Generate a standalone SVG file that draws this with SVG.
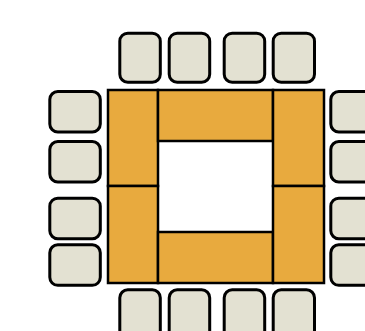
<svg xmlns="http://www.w3.org/2000/svg" width="365" height="331" viewBox="0 0 365 331">
<style>
.chair{fill:#E3E1D2;stroke:#000;stroke-width:3}
.table{fill:#E8AA3E;stroke:#000;stroke-width:2.5}
</style>
<rect width="365" height="331" fill="#fff"/>
<g id="tables">
<rect id="t-left-top" class="table" x="108" y="90" width="50" height="96"/>
<rect id="t-left-bottom" class="table" x="108" y="186" width="50" height="97"/>
<rect id="t-top" class="table" x="158" y="90" width="115" height="51"/>
<rect id="t-bottom" class="table" x="158" y="232" width="115" height="51"/>
<rect id="t-right-top" class="table" x="273" y="90" width="51" height="96"/>
<rect id="t-right-bottom" class="table" x="273" y="186" width="51" height="97"/>
</g>
<g id="chairs-top">
<rect id="c-t1" class="chair" x="119.8" y="33.2" width="40.5" height="49" rx="8"/>
<rect id="c-t2" class="chair" x="169.2" y="33.2" width="40.5" height="49" rx="8"/>
<rect id="c-t3" class="chair" x="224.2" y="33.2" width="40.5" height="49" rx="8"/>
<rect id="c-t4" class="chair" x="273.2" y="33.2" width="41.3" height="49" rx="8"/>
</g>
<g id="chairs-left">
<rect id="c-l1" class="chair" x="49.8" y="91.5" width="50.5" height="40.5" rx="8"/>
<rect id="c-l2" class="chair" x="49.8" y="141.5" width="50.5" height="40.5" rx="8"/>
<rect id="c-l3" class="chair" x="49.8" y="198.2" width="50.5" height="40.5" rx="8"/>
<rect id="c-l4" class="chair" x="49.8" y="244.8" width="50.5" height="40.5" rx="8"/>
</g>
<g id="chairs-right">
<rect id="c-r1" class="chair" x="330.8" y="91.5" width="50.5" height="40.5" rx="8"/>
<rect id="c-r2" class="chair" x="330.8" y="141.5" width="50.5" height="40.5" rx="8"/>
<rect id="c-r3" class="chair" x="330.8" y="198.2" width="50.5" height="40.5" rx="8"/>
<rect id="c-r4" class="chair" x="330.8" y="244.8" width="50.5" height="40.5" rx="8"/>
</g>
<g id="chairs-bottom">
<rect id="c-b1" class="chair" x="119.8" y="289.8" width="40.5" height="49" rx="8"/>
<rect id="c-b2" class="chair" x="169.2" y="289.8" width="40.5" height="49" rx="8"/>
<rect id="c-b3" class="chair" x="224.2" y="289.8" width="40.5" height="49" rx="8"/>
<rect id="c-b4" class="chair" x="273.2" y="289.8" width="41.3" height="49" rx="8"/>
</g>
<g id="connectors"/>
</svg>
